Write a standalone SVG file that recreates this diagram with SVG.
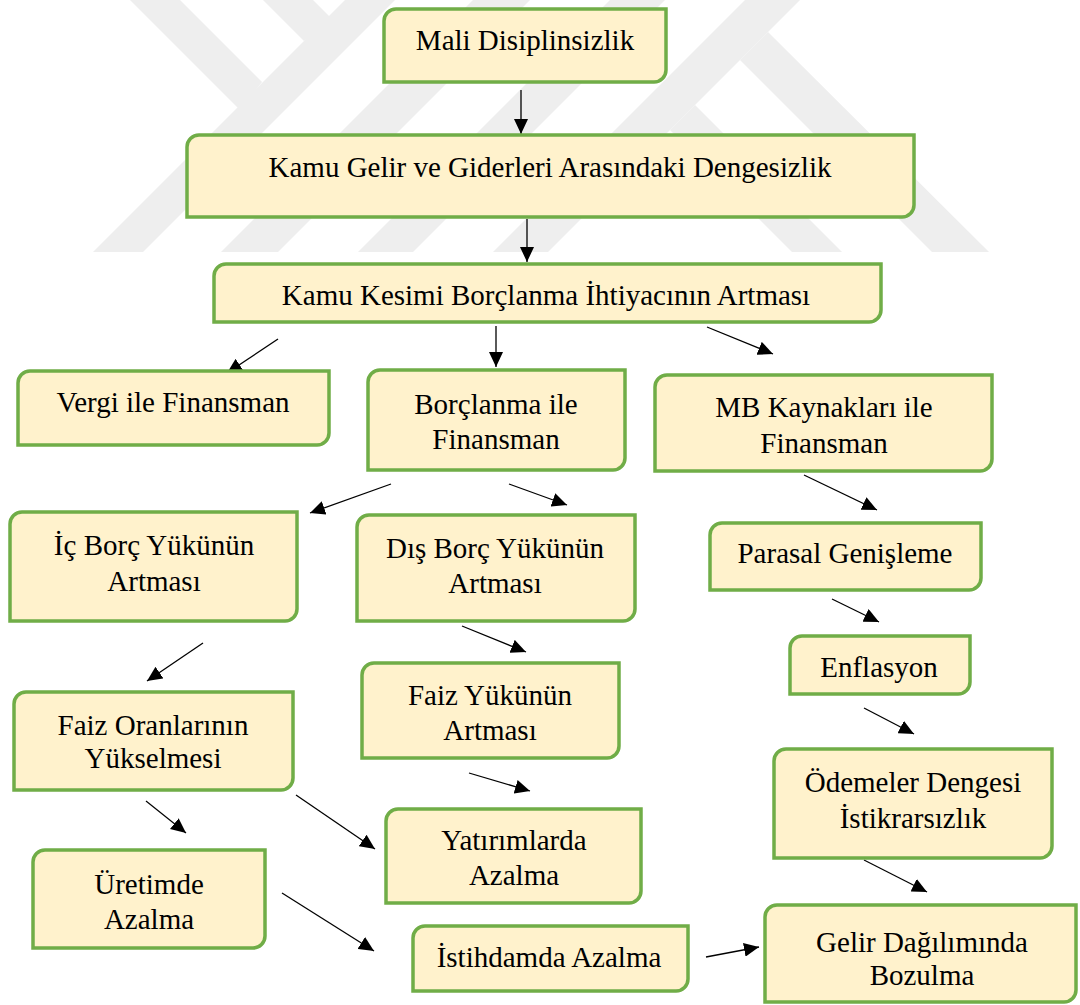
<svg xmlns="http://www.w3.org/2000/svg" width="1080" height="1005" viewBox="0 0 1080 1005">
<style>
.box{fill:#FFF2CC;stroke:#70AD47;stroke-width:3.5}
.t{font-family:"Liberation Serif","Times New Roman",serif;font-size:29px;fill:#000;text-anchor:middle}
.c{stroke:#000;stroke-width:1.3;fill:none;marker-end:url(#ah)}
.wm{fill:#eeeeee}
</style>
<defs>
<marker id="ah" viewBox="0 0 15 14" refX="15" refY="7" markerWidth="15" markerHeight="14" markerUnits="userSpaceOnUse" orient="auto">
<path d="M0 0L15 7L0 14Z" fill="#000"/>
</marker>
<clipPath id="wmclip"><rect x="0" y="0" width="1080" height="252"/></clipPath>
</defs>
<rect width="1080" height="1005" fill="#fff"/>
<g id="watermark" clip-path="url(#wmclip)">
<polygon class="wm" points="130,0 180,0 262,82 240,110"/>
<polygon class="wm" points="263,0 313,0 332,19 304,41"/>
<polygon class="wm" points="345,0 395,0 143,252 93,252"/>
<polygon class="wm" points="473,0 530,0 278,252 221,252"/>
<polygon class="wm" points="610,0 665,0 413,252 358,252"/>
<polygon class="wm" points="745,0 800,0 548,252 493,252"/>
<polygon class="wm" points="740,60 768,32 989,252 932,252"/>
<polygon class="wm" points="670,130 695,105 842,252 792,252"/>
</g>
<g id="connectors">
<line class="c" x1="521" y1="90" x2="521" y2="134"/>
<line class="c" x1="527" y1="219" x2="527" y2="262"/>
<line class="c" x1="278" y1="339" x2="227" y2="373"/>
<line class="c" x1="496" y1="326" x2="496" y2="367"/>
<line class="c" x1="707" y1="327" x2="773" y2="354"/>
<line class="c" x1="391" y1="484" x2="310" y2="513"/>
<line class="c" x1="509" y1="484" x2="567" y2="505"/>
<line class="c" x1="804" y1="475" x2="877" y2="510"/>
<line class="c" x1="832" y1="599" x2="879" y2="622"/>
<line class="c" x1="864" y1="708" x2="914" y2="734"/>
<line class="c" x1="203" y1="643" x2="147" y2="681"/>
<line class="c" x1="462" y1="626" x2="526" y2="652"/>
<line class="c" x1="469" y1="773" x2="530" y2="791"/>
<line class="c" x1="296" y1="795" x2="375" y2="849"/>
<line class="c" x1="146" y1="801" x2="186" y2="833"/>
<line class="c" x1="282" y1="893" x2="374" y2="951"/>
<line class="c" x1="706" y1="957" x2="759" y2="947"/>
<line class="c" x1="864" y1="860" x2="927" y2="892"/>
</g>
<g id="n1"><path class="box" d="M396 9H666V70A12 12 0 0 1 654 82H384V21A12 12 0 0 1 396 9Z"/><text class="t" x="525" y="50">Mali Disiplinsizlik</text></g>
<g id="n2"><path class="box" d="M199 135H914V205A12 12 0 0 1 902 217H187V147A12 12 0 0 1 199 135Z"/><text class="t" x="550" y="177">Kamu Gelir ve Giderleri Arasındaki Dengesizlik</text></g>
<g id="n3"><path class="box" d="M226 264H881V310A12 12 0 0 1 869 322H214V276A12 12 0 0 1 226 264Z"/><text class="t" x="546" y="305">Kamu Kesimi Borçlanma İhtiyacının Artması</text></g>
<g id="n4"><path class="box" d="M30 371H329V433A12 12 0 0 1 317 445H18V383A12 12 0 0 1 30 371Z"/><text class="t" x="173" y="412">Vergi ile Finansman</text></g>
<g id="n5"><path class="box" d="M380 370H625V458A12 12 0 0 1 613 470H368V382A12 12 0 0 1 380 370Z"/><text class="t" x="496" y="414">Borçlanma ile</text><text class="t" x="496" y="449">Finansman</text></g>
<g id="n6"><path class="box" d="M667 375H992V459A12 12 0 0 1 980 471H655V387A12 12 0 0 1 667 375Z"/><text class="t" x="824" y="417">MB Kaynakları ile</text><text class="t" x="824" y="453">Finansman</text></g>
<g id="n7"><path class="box" d="M22 512H297V609A12 12 0 0 1 285 621H10V524A12 12 0 0 1 22 512Z"/><text class="t" x="154" y="555">İç Borç Yükünün</text><text class="t" x="154" y="591">Artması</text></g>
<g id="n8"><path class="box" d="M369 515H635V609A12 12 0 0 1 623 621H357V527A12 12 0 0 1 369 515Z"/><text class="t" x="495" y="558">Dış Borç Yükünün</text><text class="t" x="495" y="593">Artması</text></g>
<g id="n9"><path class="box" d="M722 523H981V578A12 12 0 0 1 969 590H710V535A12 12 0 0 1 722 523Z"/><text class="t" x="845" y="563">Parasal Genişleme</text></g>
<g id="n10"><path class="box" d="M802 636H970V682A12 12 0 0 1 958 694H790V648A12 12 0 0 1 802 636Z"/><text class="t" x="879" y="677">Enflasyon</text></g>
<g id="n11"><path class="box" d="M26 692H293V778A12 12 0 0 1 281 790H14V704A12 12 0 0 1 26 692Z"/><text class="t" x="153" y="735">Faiz Oranlarının</text><text class="t" x="153" y="768">Yükselmesi</text></g>
<g id="n12"><path class="box" d="M374 663H619V746A12 12 0 0 1 607 758H362V675A12 12 0 0 1 374 663Z"/><text class="t" x="490" y="705">Faiz Yükünün</text><text class="t" x="490" y="740">Artması</text></g>
<g id="n13"><path class="box" d="M786 749H1052V846A12 12 0 0 1 1040 858H774V761A12 12 0 0 1 786 749Z"/><text class="t" x="913" y="792">Ödemeler Dengesi</text><text class="t" x="913" y="828">İstikrarsızlık</text></g>
<g id="n14"><path class="box" d="M398 809H641V891A12 12 0 0 1 629 903H386V821A12 12 0 0 1 398 809Z"/><text class="t" x="514" y="850">Yatırımlarda</text><text class="t" x="514" y="885">Azalma</text></g>
<g id="n15"><path class="box" d="M45 850H265V936A12 12 0 0 1 253 948H33V862A12 12 0 0 1 45 850Z"/><text class="t" x="149" y="894">Üretimde</text><text class="t" x="149" y="929">Azalma</text></g>
<g id="n16"><path class="box" d="M425 926H688V979A12 12 0 0 1 676 991H413V938A12 12 0 0 1 425 926Z"/><text class="t" x="549" y="967">İstihdamda Azalma</text></g>
<g id="n17"><path class="box" d="M777 905H1076V990A12 12 0 0 1 1064 1002H765V917A12 12 0 0 1 777 905Z"/><text class="t" x="922" y="952">Gelir Dağılımında</text><text class="t" x="922" y="985">Bozulma</text></g>
</svg>
